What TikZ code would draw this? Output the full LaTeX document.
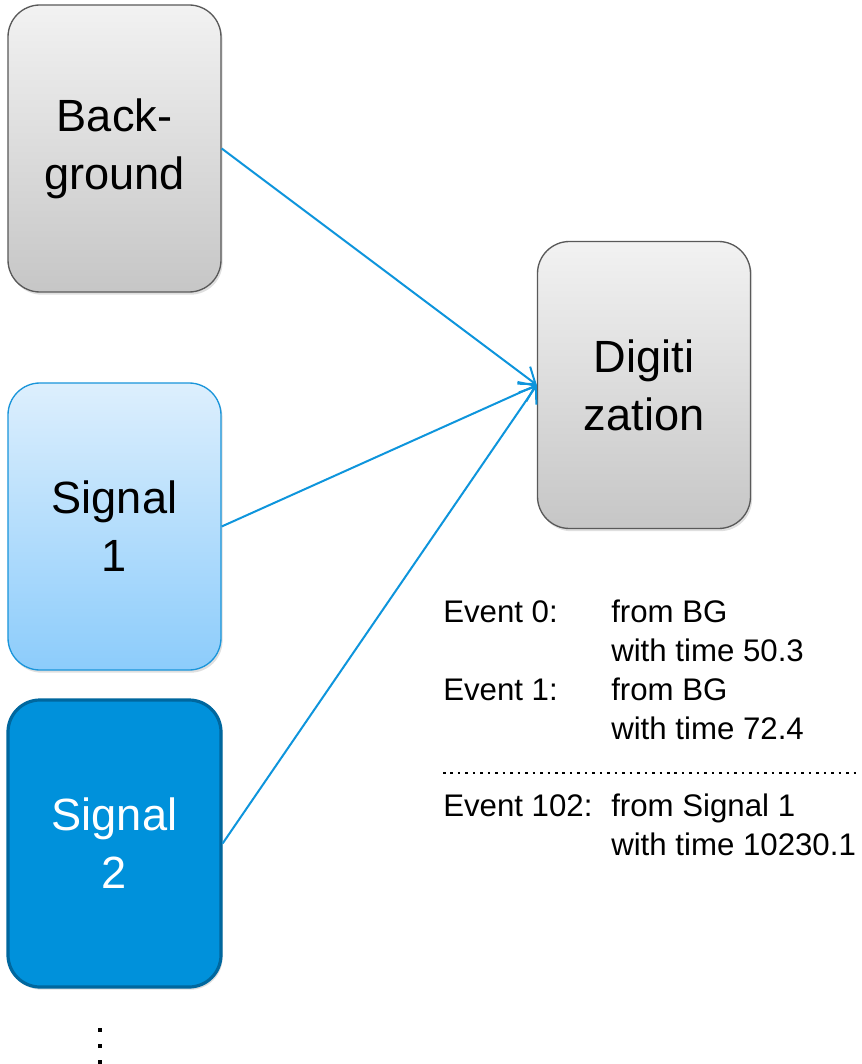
\documentclass[tikz,border=0pt]{standalone}
\usepackage{fontspec}
\setmainfont{Liberation Sans}
\usetikzlibrary{arrows.meta}
\usetikzlibrary{shadows}
\definecolor{boxGrayTop}{HTML}{F2F2F2}
\definecolor{boxGrayBottom}{HTML}{C6C6C6}
\definecolor{boxGrayLine}{HTML}{595959}
\definecolor{boxLightTop}{HTML}{DDEFFD}
\definecolor{boxLightBottom}{HTML}{8CCCFB}
\definecolor{boxLightLine}{HTML}{1A95DA}
\definecolor{boxDarkFill}{HTML}{0091DB}
\definecolor{boxDarkLine}{HTML}{00679E}
\definecolor{linkColor}{HTML}{0E95DC}
\def\textBG{Back-\\ground}
\def\textSA{Signal\\1}
\def\textSB{Signal\\2}
\def\textDG{Digiti\\zation}
\tikzset{
  stage/.style={rounded corners=24bp, minimum width=159.75bp, minimum height=215.25bp,
    align=center, inner sep=0pt, font=\fontsize{34}{43.5}\selectfont,
    drop shadow={opacity=.25, shadow xshift=1.2bp, shadow yshift=-2bp}},
  grayStage/.style={stage, draw=boxGrayLine, line width=1bp, top color=boxGrayTop, bottom color=boxGrayBottom},
  lightStage/.style={stage, draw=boxLightLine, line width=1bp, top color=boxLightTop, bottom color=boxLightBottom},
  darkStage/.style={stage, draw=boxDarkLine, line width=2.4bp, fill=boxDarkFill, text=white},
  link/.style={draw=linkColor, line width=1.5bp, -{Straight Barb[length=11bp, width=16bp, line width=1.5bp]}},
  evText/.style={anchor=west, inner sep=0pt, align=left, font=\fontsize{23.5}{29.25}\selectfont}
}

\begin{document}
\begin{tikzpicture}[x=.75bp,y=-.75bp]
\useasboundingbox (0, 0) rectangle (861, 1064);

% stages
\node[grayStage] (bg) at (114.5, 148.5) {\textBG};
\node[lightStage] (sigA) at (114.5, 526.5) {\textSA};
\node[darkStage] (sigB) at (114.5, 843.5) {\textSB};
\node[grayStage] (digi) at (644, 385) {\textDG};

% links
\draw[link] (bg.east) -- (digi.west);
\draw[link] (sigA.east) -- (digi.west);
\draw[link] (sigB.east) -- (digi.west);

% event list
\node[evText] (evA) at (443, 631) {Event 0:\\ \phantom{E}};
\node[evText] (evAt) at (611, 631) {from BG\\with time 50.3};
\node[evText] (evB) at (443, 709) {Event 1:\\ \phantom{E}};
\node[evText] (evBt) at (611, 709) {from BG\\with time 72.4};
\coordinate (dotL) at (443, 773);
\coordinate (dotR) at (861, 773);
\draw[line width=1.9bp, dash pattern=on 1.9bp off 3.7bp] (dotL) -- (dotR);
\node[evText] (evC) at (443, 825) {Event 102:\\ \phantom{E}};
\node[evText] (evCt) at (611, 825) {from Signal 1\\with time 10230.1};

% more signals
\foreach \y in {1030, 1046, 1062} {
  \fill (98, \y-2) rectangle (102, \y+2);
}
\end{tikzpicture}
\end{document}
